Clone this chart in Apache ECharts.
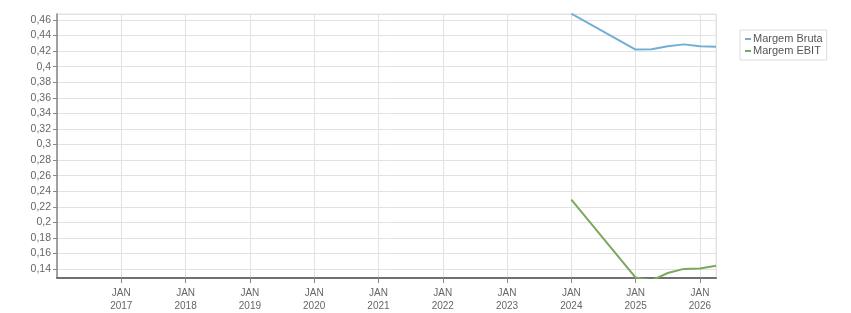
<!DOCTYPE html>
<html><head><meta charset="utf-8">
<script src="https://cdn.jsdelivr.net/npm/echarts@6/dist/echarts.min.js"></script>
<style>html,body{margin:0;padding:0;background:#fff}#c{width:851px;height:313px}</style>
</head><body><div id="c"></div>
<script>
// x positions as decimal years (quarter steps)
const xBruta = [2024, 2025, 2025.25, 2025.5, 2025.75, 2026, 2026.25];
const margemBruta = [0.468, 0.4219, 0.4222, 0.4261, 0.4286, 0.4261, 0.4257];
const xEbit = [2024, 2025, 2025.25, 2025.5, 2025.75, 2026, 2026.25];
const margemEbit = [0.2293, 0.1292, 0.1255, 0.1350, 0.1403, 0.1409, 0.1442];
const yearTicks = [2017, 2018, 2019, 2020, 2021, 2022, 2023, 2024, 2025, 2026];
const seriesNames = ['Margem Bruta', 'Margem EBIT'];

const font = 'Liberation Sans, Arial, sans-serif';
const chart = echarts.init(document.getElementById('c'), null, {renderer: 'canvas'});
chart.setOption({
  animation: false,
  grid: {left: 57, right: 135, top: 14, bottom: 33, show: true, borderColor: '#e2e2e2', borderWidth: 1},
  legend: {
    orient: 'vertical', left: 740, top: 30, padding: [3, 4, 3, 5],
    borderColor: '#dcdcdc', borderWidth: 1, itemGap: 0,
    itemWidth: 6, itemHeight: 2, icon: 'rect',
    textStyle: {fontFamily: font, fontSize: 11, lineHeight: 12, color: '#555', padding: [0, 0, 0, -3]},
    data: seriesNames
  },
  xAxis: {
    type: 'value', min: 2016, max: 2026.25, interval: 1,
    axisLine: {lineStyle: {color: '#707070', width: 2}},
    axisTick: {show: true, length: 5, lineStyle: {color: '#888'}},
    splitLine: {show: true, lineStyle: {color: '#e2e2e2'}},
    axisLabel: {
      showMinLabel: false, showMaxLabel: false, margin: 9,
      fontFamily: font, fontSize: 10, color: '#666', lineHeight: 13,
      formatter: v => (yearTicks.indexOf(v) >= 0 ? 'JAN\n' + v : '')
    }
  },
  yAxis: {
    type: 'value', min: 0.1286, max: 0.4676, splitNumber: 17,
    axisLine: {show: true, lineStyle: {color: '#888', width: 1.5}},
    axisTick: {show: true, length: 4, lineStyle: {color: '#888'}},
    splitLine: {show: true, lineStyle: {color: '#e2e2e2'}},
    axisLabel: {
      showMinLabel: false, showMaxLabel: false, margin: 6,
      fontFamily: font, fontSize: 10.5, color: '#666',
      formatter: v => String(+v.toFixed(2)).replace('.', ',')
    }
  },
  series: [
    {name: seriesNames[0], type: 'line', showSymbol: false, smooth: false, clip: true,
     color: '#70afd6', lineStyle: {width: 2, color: '#70afd6'},
     data: xBruta.map((x, i) => [x, margemBruta[i]])},
    {name: seriesNames[1], type: 'line', showSymbol: false, smooth: false, clip: true,
     color: '#7aa85c', lineStyle: {width: 2, color: '#7aa85c'},
     data: xEbit.map((x, i) => [x, margemEbit[i]])}
  ]
});
</script></body></html>
